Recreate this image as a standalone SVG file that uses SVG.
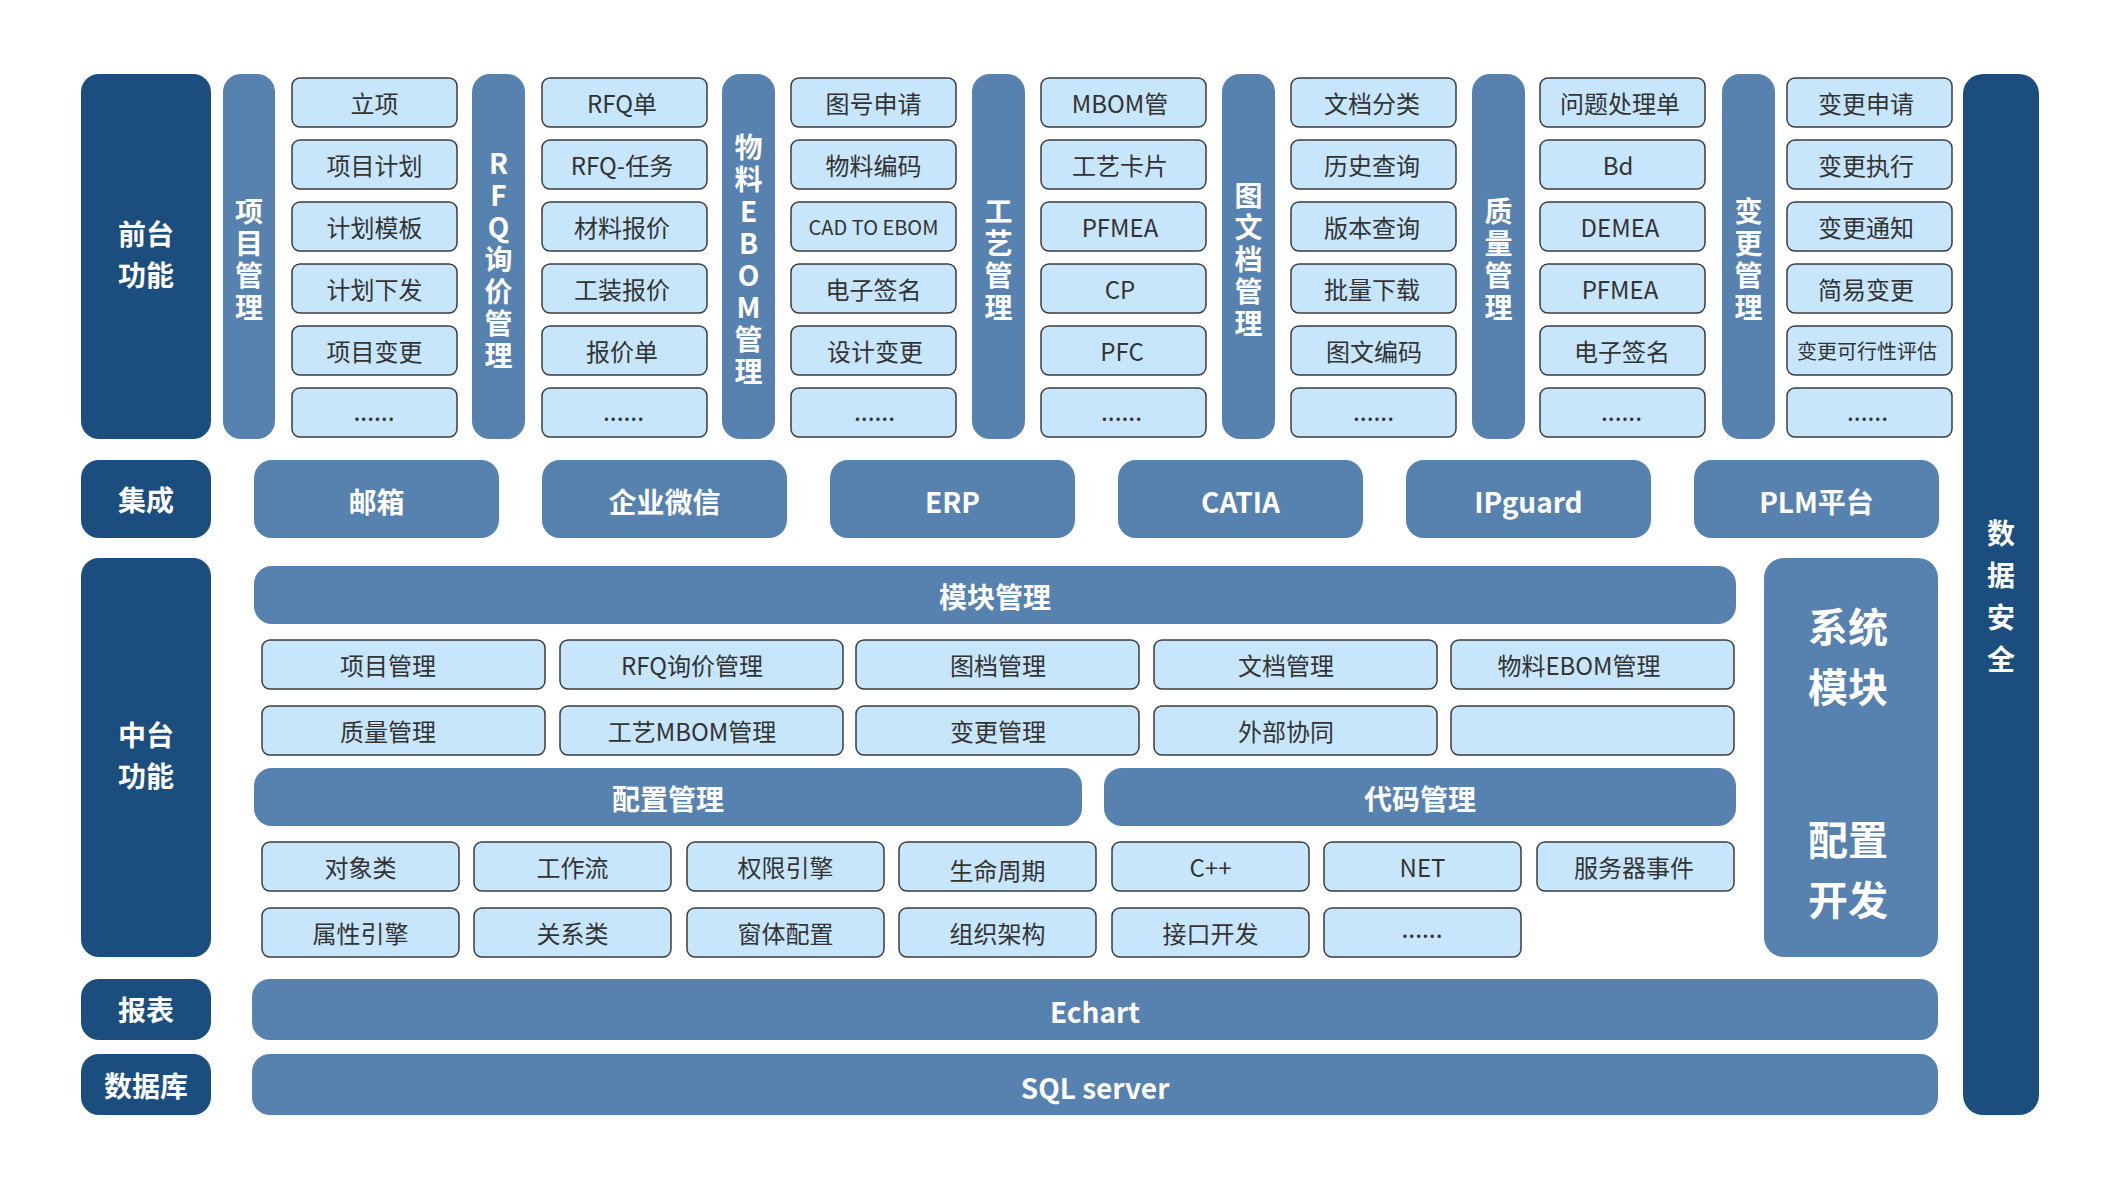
<svg xmlns="http://www.w3.org/2000/svg" width="2120" height="1188" viewBox="0 0 2120 1188">
<style>
.dk{fill:#1b4d7e}
.md{fill:#5781ae}
.lt{fill:#c7e6fc;stroke:#3c3c3c;stroke-width:1.5}
text{font-family:"Noto Sans CJK SC","Noto Sans",sans-serif;text-anchor:middle;dominant-baseline:central}
.wt{fill:#fff;font-weight:700;font-size:28px}
.vt{writing-mode:vertical-rl;text-orientation:upright;letter-spacing:4px}
.vs{writing-mode:vertical-rl;text-orientation:upright;letter-spacing:14px}
.big{fill:#fff;font-weight:700;font-size:40px}
.it{fill:#333;font-size:24px}
.sm{fill:#333;font-size:20px}
.dot{fill:#333;font-size:18px;letter-spacing:1px;font-weight:700}
</style>
<rect width="2120" height="1188" fill="#fff"/>

<!-- 前台功能 -->
<g id="front">
<rect class="dk" x="81" y="74" width="130" height="365" rx="18"/>
<text class="wt" x="146" y="233">前台</text>
<text class="wt" x="146" y="274">功能</text>
</g>

<!-- group 1 -->
<g id="g-project">
<rect class="md" x="223" y="74" width="52" height="365" rx="18"/>
<text class="wt vt" x="249" y="261">项目管理</text>
</g>
<g id="c1">
<rect class="lt" x="292" y="78" width="165" height="49" rx="8"/><text class="it" x="374.5" y="102.5">立项</text>
<rect class="lt" x="292" y="140" width="165" height="49" rx="8"/><text class="it" x="374.5" y="164.5">项目计划</text>
<rect class="lt" x="292" y="202" width="165" height="49" rx="8"/><text class="it" x="374.5" y="226.5">计划模板</text>
<rect class="lt" x="292" y="264" width="165" height="49" rx="8"/><text class="it" x="374.5" y="288.5">计划下发</text>
<rect class="lt" x="292" y="326" width="165" height="49" rx="8"/><text class="it" x="374.5" y="350.5">项目变更</text>
<rect class="lt" x="292" y="388" width="165" height="49" rx="8"/><text class="dot" x="374.5" y="412.5">......</text>
</g>

<g id="g-rfq">
<rect class="md" x="472" y="74" width="53" height="365" rx="18"/>
<text class="wt vt" x="498.5" y="261">RFQ询价管理</text>
</g>
<g id="c2">
<rect class="lt" x="542" y="78" width="165" height="49" rx="8"/><text class="it" x="622" y="102.5">RFQ单</text>
<rect class="lt" x="542" y="140" width="165" height="49" rx="8"/><text class="it" x="622" y="164.5">RFQ-任务</text>
<rect class="lt" x="542" y="202" width="165" height="49" rx="8"/><text class="it" x="622" y="226.5">材料报价</text>
<rect class="lt" x="542" y="264" width="165" height="49" rx="8"/><text class="it" x="622" y="288.5">工装报价</text>
<rect class="lt" x="542" y="326" width="165" height="49" rx="8"/><text class="it" x="622" y="350.5">报价单</text>
<rect class="lt" x="542" y="388" width="165" height="49" rx="8"/><text class="dot" x="624" y="412.5">......</text>
</g>

<g id="g-ebom">
<rect class="md" x="722" y="74" width="53" height="365" rx="18"/>
<text class="wt vt" x="748.5" y="261">物料EBOM管理</text>
</g>
<g id="c3">
<rect class="lt" x="791" y="78" width="165" height="49" rx="8"/><text class="it" x="873.5" y="102.5">图号申请</text>
<rect class="lt" x="791" y="140" width="165" height="49" rx="8"/><text class="it" x="873.5" y="164.5">物料编码</text>
<rect class="lt" x="791" y="202" width="165" height="49" rx="8"/><text class="sm" x="873.5" y="226.5">CAD TO EBOM</text>
<rect class="lt" x="791" y="264" width="165" height="49" rx="8"/><text class="it" x="873.5" y="288.5">电子签名</text>
<rect class="lt" x="791" y="326" width="165" height="49" rx="8"/><text class="it" x="875" y="350.5">设计变更</text>
<rect class="lt" x="791" y="388" width="165" height="49" rx="8"/><text class="dot" x="875" y="412.5">......</text>
</g>

<g id="g-craft">
<rect class="md" x="972" y="74" width="53" height="365" rx="18"/>
<text class="wt vt" x="998.5" y="261">工艺管理</text>
</g>
<g id="c4">
<rect class="lt" x="1041" y="78" width="165" height="49" rx="8"/><text class="it" x="1120" y="102.5">MBOM管</text>
<rect class="lt" x="1041" y="140" width="165" height="49" rx="8"/><text class="it" x="1120" y="164.5">工艺卡片</text>
<rect class="lt" x="1041" y="202" width="165" height="49" rx="8"/><text class="it" x="1120" y="226.5">PFMEA</text>
<rect class="lt" x="1041" y="264" width="165" height="49" rx="8"/><text class="it" x="1120" y="288.5">CP</text>
<rect class="lt" x="1041" y="326" width="165" height="49" rx="8"/><text class="it" x="1122" y="350.5">PFC</text>
<rect class="lt" x="1041" y="388" width="165" height="49" rx="8"/><text class="dot" x="1122" y="412.5">......</text>
</g>

<g id="g-doc">
<rect class="md" x="1222" y="74" width="53" height="365" rx="18"/>
<text class="wt vt" x="1248.5" y="261">图文档管理</text>
</g>
<g id="c5">
<rect class="lt" x="1291" y="78" width="165" height="49" rx="8"/><text class="it" x="1372" y="102.5">文档分类</text>
<rect class="lt" x="1291" y="140" width="165" height="49" rx="8"/><text class="it" x="1372" y="164.5">历史查询</text>
<rect class="lt" x="1291" y="202" width="165" height="49" rx="8"/><text class="it" x="1372" y="226.5">版本查询</text>
<rect class="lt" x="1291" y="264" width="165" height="49" rx="8"/><text class="it" x="1372" y="288.5">批量下载</text>
<rect class="lt" x="1291" y="326" width="165" height="49" rx="8"/><text class="it" x="1374" y="350.5">图文编码</text>
<rect class="lt" x="1291" y="388" width="165" height="49" rx="8"/><text class="dot" x="1374" y="412.5">......</text>
</g>

<g id="g-quality">
<rect class="md" x="1472" y="74" width="53" height="365" rx="18"/>
<text class="wt vt" x="1498.5" y="261">质量管理</text>
</g>
<g id="c6">
<rect class="lt" x="1540" y="78" width="165" height="49" rx="8"/><text class="it" x="1620" y="102.5">问题处理单</text>
<rect class="lt" x="1540" y="140" width="165" height="49" rx="8"/><text class="it" x="1618" y="164.5">Bd</text>
<rect class="lt" x="1540" y="202" width="165" height="49" rx="8"/><text class="it" x="1620" y="226.5">DEMEA</text>
<rect class="lt" x="1540" y="264" width="165" height="49" rx="8"/><text class="it" x="1620" y="288.5">PFMEA</text>
<rect class="lt" x="1540" y="326" width="165" height="49" rx="8"/><text class="it" x="1622" y="350.5">电子签名</text>
<rect class="lt" x="1540" y="388" width="165" height="49" rx="8"/><text class="dot" x="1622" y="412.5">......</text>
</g>

<g id="g-change">
<rect class="md" x="1722" y="74" width="53" height="365" rx="18"/>
<text class="wt vt" x="1748.5" y="261">变更管理</text>
</g>
<g id="c7">
<rect class="lt" x="1787" y="78" width="165" height="49" rx="8"/><text class="it" x="1866" y="102.5">变更申请</text>
<rect class="lt" x="1787" y="140" width="165" height="49" rx="8"/><text class="it" x="1866" y="164.5">变更执行</text>
<rect class="lt" x="1787" y="202" width="165" height="49" rx="8"/><text class="it" x="1866" y="226.5">变更通知</text>
<rect class="lt" x="1787" y="264" width="165" height="49" rx="8"/><text class="it" x="1866" y="288.5">简易变更</text>
<rect class="lt" x="1787" y="326" width="165" height="49" rx="8"/><text class="sm" x="1867" y="350.5">变更可行性评估</text>
<rect class="lt" x="1787" y="388" width="165" height="49" rx="8"/><text class="dot" x="1868" y="412.5">......</text>
</g>

<!-- 数据安全 -->
<g id="security">
<rect class="dk" x="1963" y="74" width="76" height="1041" rx="20"/>
<text class="wt vs" x="2001" y="603">数据安全</text>
</g>

<!-- 集成 -->
<g id="integration">
<rect class="dk" x="81" y="460" width="130" height="78" rx="18"/>
<text class="wt" x="146" y="499">集成</text>
</g>
<g id="int-items">
<rect class="md" x="254" y="460" width="245" height="78" rx="18"/><text class="wt" x="376.5" y="501">邮箱</text>
<rect class="md" x="542" y="460" width="245" height="78" rx="18"/><text class="wt" x="664.5" y="501">企业微信</text>
<rect class="md" x="830" y="460" width="245" height="78" rx="18"/><text class="wt" x="952.5" y="501">ERP</text>
<rect class="md" x="1118" y="460" width="245" height="78" rx="18"/><text class="wt" x="1240.5" y="501">CATIA</text>
<rect class="md" x="1406" y="460" width="245" height="78" rx="18"/><text class="wt" x="1528.5" y="501">IPguard</text>
<rect class="md" x="1694" y="460" width="245" height="78" rx="18"/><text class="wt" x="1816.5" y="501">PLM平台</text>
</g>

<!-- 中台功能 -->
<g id="middle">
<rect class="dk" x="81" y="558" width="130" height="399" rx="18"/>
<text class="wt" x="146" y="734">中台</text>
<text class="wt" x="146" y="775">功能</text>
</g>
<g id="module-mgmt">
<rect class="md" x="254" y="566" width="1482" height="58" rx="18"/>
<text class="wt" x="995" y="596">模块管理</text>
</g>
<g id="modules">
<rect class="lt" x="262" y="640" width="283" height="49" rx="8"/><text class="it" x="388" y="664.5">项目管理</text>
<rect class="lt" x="560" y="640" width="283" height="49" rx="8"/><text class="it" x="692" y="664.5">RFQ询价管理</text>
<rect class="lt" x="856" y="640" width="283" height="49" rx="8"/><text class="it" x="998" y="664.5">图档管理</text>
<rect class="lt" x="1154" y="640" width="283" height="49" rx="8"/><text class="it" x="1286" y="664.5">文档管理</text>
<rect class="lt" x="1451" y="640" width="283" height="49" rx="8"/><text class="it" x="1579" y="664.5">物料EBOM管理</text>
<rect class="lt" x="262" y="706" width="283" height="49" rx="8"/><text class="it" x="388" y="730.5">质量管理</text>
<rect class="lt" x="560" y="706" width="283" height="49" rx="8"/><text class="it" x="692" y="730.5">工艺MBOM管理</text>
<rect class="lt" x="856" y="706" width="283" height="49" rx="8"/><text class="it" x="998" y="730.5">变更管理</text>
<rect class="lt" x="1154" y="706" width="283" height="49" rx="8"/><text class="it" x="1286" y="730.5">外部协同</text>
<rect class="lt" x="1451" y="706" width="283" height="49" rx="8"/>
</g>
<g id="config-mgmt">
<rect class="md" x="254" y="768" width="828" height="58" rx="18"/>
<text class="wt" x="668" y="798">配置管理</text>
</g>
<g id="code-mgmt">
<rect class="md" x="1104" y="768" width="632" height="58" rx="18"/>
<text class="wt" x="1420" y="798">代码管理</text>
</g>
<g id="config-items">
<rect class="lt" x="262" y="842" width="197" height="49" rx="8"/><text class="it" x="360.5" y="866.5">对象类</text>
<rect class="lt" x="474" y="842" width="197" height="49" rx="8"/><text class="it" x="572.5" y="866.5">工作流</text>
<rect class="lt" x="687" y="842" width="197" height="49" rx="8"/><text class="it" x="785.5" y="866.5">权限引擎</text>
<rect class="lt" x="899" y="842" width="197" height="49" rx="8"/><text class="it" x="997.5" y="869">生命周期</text>
<rect class="lt" x="262" y="908" width="197" height="49" rx="8"/><text class="it" x="360.5" y="932.5">属性引擎</text>
<rect class="lt" x="474" y="908" width="197" height="49" rx="8"/><text class="it" x="572.5" y="932.5">关系类</text>
<rect class="lt" x="687" y="908" width="197" height="49" rx="8"/><text class="it" x="785.5" y="932.5">窗体配置</text>
<rect class="lt" x="899" y="908" width="197" height="49" rx="8"/><text class="it" x="997.5" y="932.5">组织架构</text>
</g>
<g id="code-items">
<rect class="lt" x="1112" y="842" width="197" height="49" rx="8"/><text class="it" x="1210.5" y="866.5">C++</text>
<rect class="lt" x="1324" y="842" width="197" height="49" rx="8"/><text class="it" x="1422.5" y="866.5">NET</text>
<rect class="lt" x="1537" y="842" width="197" height="49" rx="8"/><text class="it" x="1634" y="866.5">服务器事件</text>
<rect class="lt" x="1112" y="908" width="197" height="49" rx="8"/><text class="it" x="1210.5" y="932.5">接口开发</text>
<rect class="lt" x="1324" y="908" width="197" height="49" rx="8"/><text class="dot" x="1422.5" y="930">......</text>
</g>
<g id="system">
<rect class="md" x="1764" y="558" width="174" height="399" rx="20"/>
<text class="big" x="1848" y="625">系统</text>
<text class="big" x="1848" y="685">模块</text>
<text class="big" x="1848" y="838">配置</text>
<text class="big" x="1848" y="898">开发</text>
</g>

<!-- 报表 / 数据库 -->
<g id="report">
<rect class="dk" x="81" y="979" width="130" height="61" rx="18"/>
<text class="wt" x="146" y="1009">报表</text>
</g>
<g id="echart">
<rect class="md" x="252" y="979" width="1686" height="61" rx="18"/>
<text class="wt" x="1095" y="1011">Echart</text>
</g>
<g id="database">
<rect class="dk" x="81" y="1054" width="130" height="61" rx="18"/>
<text class="wt" x="146" y="1085">数据库</text>
</g>
<g id="sqlserver">
<rect class="md" x="252" y="1054" width="1686" height="61" rx="18"/>
<text class="wt" x="1095" y="1087">SQL server</text>
</g>
<g id="connectors"></g>
</svg>
